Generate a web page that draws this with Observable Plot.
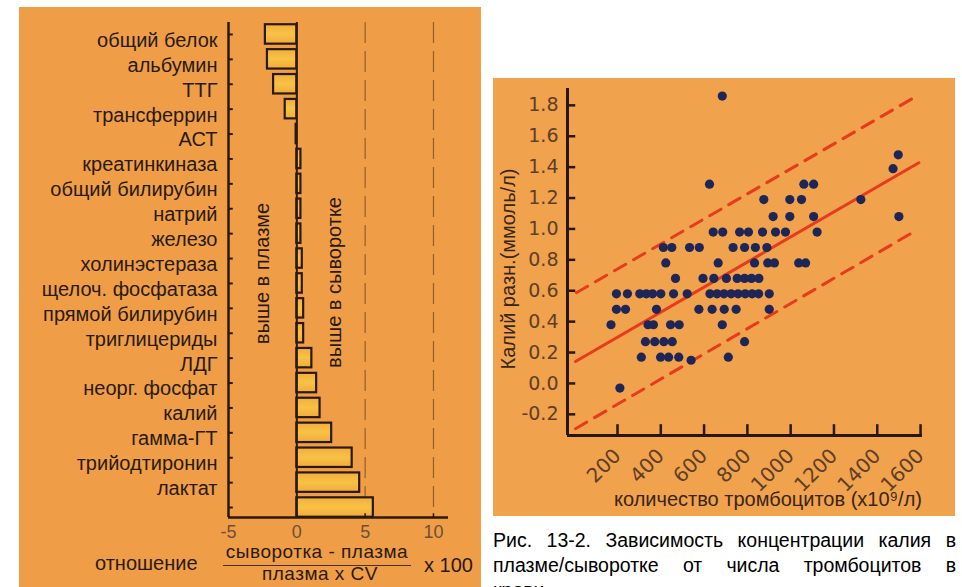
<!DOCTYPE html>
<html><head><meta charset="utf-8">
<script src="https://cdn.jsdelivr.net/npm/d3@7"></script>
<script src="https://cdn.jsdelivr.net/npm/@observablehq/plot@0.6"></script>
<style>
html,body{margin:0;padding:0;background:#fff;width:962px;height:587px;overflow:hidden;font-family:"Liberation Sans",Arial,sans-serif;}
#left{position:absolute;left:19px;top:7px;width:462px;height:580px;}
#right{position:absolute;left:493px;top:78px;width:462px;height:438px;}
.abs{position:absolute;white-space:nowrap;font-size:20px;line-height:14px;color:#2a1a0e;}
.frac{font-size:19px;letter-spacing:0.5px;}
.ctr{transform:translateX(-50%);}
#fracline{position:absolute;left:223px;top:564.5px;width:188px;height:1.5px;background:#4a3018;}
#caption{position:absolute;left:493px;top:528px;width:463px;font-size:19.5px;line-height:25px;color:#000;}
#caption div{text-align:justify;text-align-last:justify;white-space:nowrap;}
#caption div.last{text-align-last:left;}
</style></head>
<body>
<div id="left"></div>
<div id="right"></div>
<div class="abs" style="left:95px;top:556px">отношение</div>
<div class="abs ctr frac" style="left:317px;top:545.4px">сыворотка - плазма</div>
<div id="fracline"></div>
<div class="abs ctr frac" style="left:320px;top:567px">плазма x CV</div>
<div class="abs" style="left:424px;top:558px">x 100</div>
<div id="caption">
<div>Рис. 13-2. Зависимость концентрации калия в</div>
<div style="white-space:normal">плазме/сыворотке от числа тромбоцитов в</div>
<div class="last">крови</div>
</div>
<script>
// ---------- left chart data ----------
const analytes = ["общий белок","альбумин","ТТГ","трансферрин","АСТ","креатинкиназа","общий билирубин","натрий","железо","холинэстераза","щелоч. фосфатаза","прямой билирубин","триглицериды","ЛДГ","неорг. фосфат","калий","гамма-ГТ","трийодтиронин","лактат",""];
const ratios = [-2.3,-2.15,-1.7,-0.85,-0.05,0.3,0.3,0.3,0.3,0.4,0.4,0.5,0.5,1.1,1.45,1.7,2.55,4.05,4.6,5.6];
const ratioTicks = [-5,0,5,10];
const ratioGuides = [5,10];
const noteLeft = "выше в плазме";
const noteRight = "выше в сыворотке";

// ---------- right chart data ----------
const rowLevels = [1.86,1.48,1.39,1.29,1.19,1.08,0.98,0.88,0.78,0.68,0.58,0.48,0.38,0.27,0.17,0.15,-0.03];
const rowPlatelets = [
  [684],
  [1497],
  [1473],
  [625,1061,1106],
  [876,996,1050,1324],
  [919,996,1106,1500],
  [642,686,764,805,870,930,976,1122],
  [412,451,533,578,734,787,837,890],
  [423,665,833,894,925,1037,1069],
  [468,595,645,703,753,787,819,853],
  [195,246,303,333,362,400,459,522,627,660,692,725,757,790,822,852,901],
  [195,237,380,576,637,693,748,901],
  [170,341,366,445,485,684],
  [329,372,414,453,787],
  [310,399,436,483,712],
  [540],
  [211]
];
const fitX = [6,1592], fitY = [0.142,1.428];
const upperX = [10,1561], upperY = [0.587,1.843];
const lowerX = [6,1561], lowerY = [-0.293,0.975];
const kTicks = [-0.2,0,0.2,0.4,0.6,0.8,1.0,1.2,1.4,1.6,1.8];
const pTicks = [200,400,600,800,1000,1200,1400,1600];
const yTitle = "Калий разн.(ммоль/л)";
const xTitle = "количество тромбоцитов (x10⁹/л)";

// ---------- left chart ----------
const dark = "#2a1a0e";
const bars = analytes.map((label, i) => ({i, label, v: ratios[i]}));
const xDomL = [-5, 11.1], yDomL = [-0.48, 19.4];
const leftPlot = Plot.plot({
  width: 462, height: 580,
  marginLeft: 209, marginRight: 33, marginTop: 15, marginBottom: 70,
  style: {background: "#ef9e47", fontFamily: "Liberation Sans, Arial, sans-serif", overflow: "visible"},
  x: {domain: xDomL, axis: null},
  y: {domain: yDomL, reverse: true, axis: null},
  marks: [
    () => {
      const defs = d3.create("svg:defs");
      const g = defs.append("linearGradient").attr("id", "barGrad").attr("x1", 0).attr("y1", 0).attr("x2", 0).attr("y2", 1);
      g.append("stop").attr("offset", "0%").attr("stop-color", "#f3ad3e");
      g.append("stop").attr("offset", "50%").attr("stop-color", "#f8c245");
      g.append("stop").attr("offset", "100%").attr("stop-color", "#f2aa3c");
      return defs.node();
    },
    Plot.ruleX(ratioGuides, {stroke: "#7a4a1e", strokeOpacity: 0.75, strokeWidth: 1.2, strokeDasharray: "21,8"}),
    Plot.rect(bars, {x1: 0, x2: "v", y1: d => d.i - 0.39, y2: d => d.i + 0.39, fill: "url(#barGrad)", stroke: dark, strokeWidth: 2.2}),
    Plot.ruleX([0], {stroke: dark, strokeWidth: 2}),
    Plot.ruleX([xDomL[0]], {stroke: dark, strokeWidth: 2.5}),
    Plot.ruleY([yDomL[1]], {stroke: dark, strokeWidth: 2.5}),
    Plot.ruleY(bars, {y: "i", x1: xDomL[0], x2: xDomL[0] + 0.35, stroke: dark, strokeWidth: 2}),
    Plot.ruleX(ratioTicks, {y1: yDomL[1], y2: yDomL[1] - 0.15, stroke: dark, strokeWidth: 1.5}),
    Plot.text(bars, {x: xDomL[0], y: "i", text: "label", textAnchor: "end", dx: -11, dy: 6, fontSize: 20, fill: dark}),
    Plot.text(ratioTicks, {x: d => d, y: yDomL[1], text: d => String(d), dy: 15, fontSize: 18, fill: "#6e5035"}),
    Plot.text([noteLeft], {x: -2.51, y: 9.6, text: d => d, rotate: -90, fontSize: 20, fill: dark}),
    Plot.text([noteRight], {x: 2.78, y: 9.96, text: d => d, rotate: -90, fontSize: 20, fill: dark})
  ]
});
document.getElementById("left").append(leftPlot);

// ---------- right chart ----------
const points = rowLevels.flatMap((k, r) => rowPlatelets[r].map(p => ({p, k})));
const toLine = (xs, ys) => xs.map((x, i) => ({x, y: ys[i]}));
const red = "#e63b1d";
const axisDark = "#2b160a";
const xDomR = [-31, 1609], yDomR = [-0.337, 1.909];
const rightPlot = Plot.plot({
  width: 462, height: 438,
  marginLeft: 74, marginRight: 33, marginTop: 10, marginBottom: 81,
  style: {background: "#f1a24c", fontFamily: "Liberation Sans, Arial, sans-serif", overflow: "visible"},
  x: {domain: xDomR, axis: null},
  y: {domain: yDomR, axis: null},
  marks: [
    Plot.line(toLine(upperX, upperY), {x: "x", y: "y", stroke: red, strokeWidth: 3, strokeDasharray: "13,9"}),
    Plot.line(toLine(lowerX, lowerY), {x: "x", y: "y", stroke: red, strokeWidth: 3, strokeDasharray: "13,9"}),
    Plot.line(toLine(fitX, fitY), {x: "x", y: "y", stroke: red, strokeWidth: 3}),
    Plot.dot(points, {x: "p", y: "k", r: 4.6, fill: "#1d2657", stroke: "none"}),
    Plot.ruleX([xDomR[0]], {stroke: axisDark, strokeWidth: 3}),
    Plot.ruleY([yDomR[0]], {stroke: axisDark, strokeWidth: 3}),
    Plot.ruleY(kTicks, {x1: xDomR[0], x2: xDomR[0] + 38, stroke: axisDark, strokeWidth: 2.5}),
    Plot.ruleX(pTicks, {y1: yDomR[0], y2: yDomR[0] + 0.07, stroke: axisDark, strokeWidth: 2.5}),
    Plot.text(kTicks, {x: xDomR[0], y: d => d, text: d => d.toFixed(1), textAnchor: "end", dx: -9, fontSize: 19, fontFamily: "DejaVu Sans", fill: "#5e3e28"}),
    Plot.text(pTicks, {x: d => d, y: yDomR[0], text: d => String(d), rotate: -45, textAnchor: "end", dx: 0, dy: 17, fontSize: 20, fontFamily: "DejaVu Sans", fill: "#5e3e28"}),
    Plot.text([yTitle], {text: d => d, frameAnchor: "left", textAnchor: "middle", lineAnchor: "middle", rotate: -90, dx: -59, dy: 7, fontSize: 20, fill: "#3a2616"}),
    Plot.text([xTitle], {text: d => d, frameAnchor: "bottom", textAnchor: "middle", lineAnchor: "middle", dx: 23, dy: 64, fontSize: 20, fill: "#3a2616"})
  ]
});
document.getElementById("right").append(rightPlot);
</script>
</body></html>
